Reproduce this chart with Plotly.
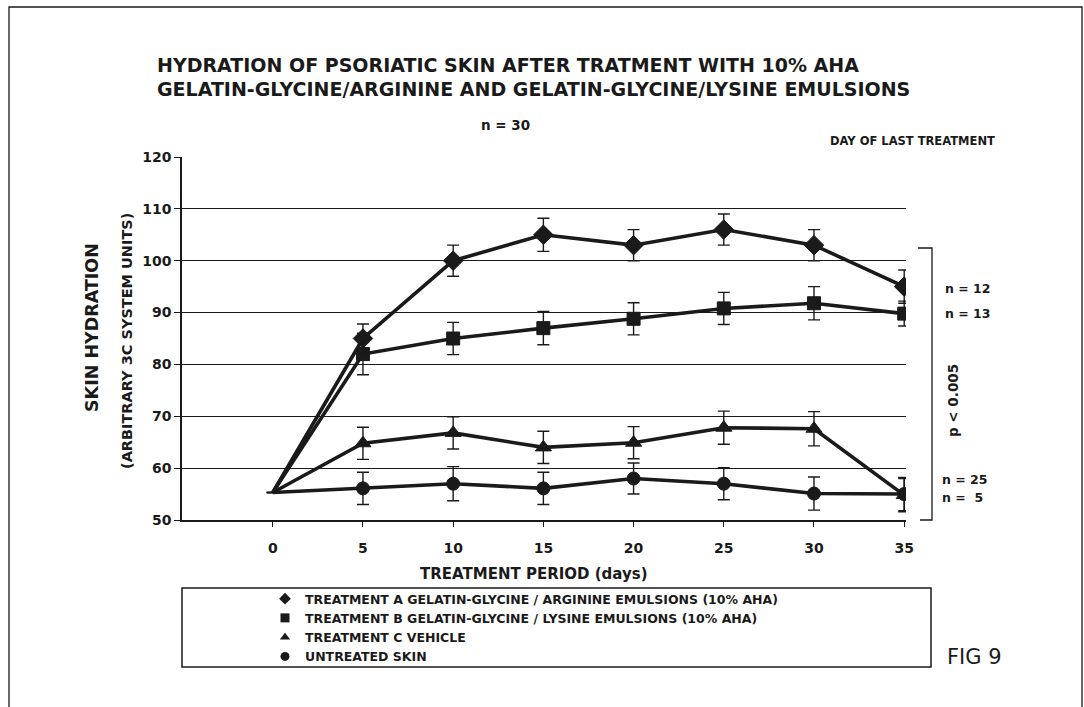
import plotly.graph_objects as go

# ---------------- data ----------------
days = [0, 5, 10, 15, 20, 25, 30, 35]
tick_days = [0, 5, 10, 15, 20, 25, 30, 35]
y_ticks = [50, 60, 70, 80, 90, 100, 110, 120]

series_names = [
    "TREATMENT A GELATIN-GLYCINE / ARGININE EMULSIONS (10% AHA)",
    "TREATMENT B GELATIN-GLYCINE / LYSINE EMULSIONS (10% AHA)",
    "TREATMENT C VEHICLE",
    "UNTREATED SKIN",
]
treat_a = [55.3, 85.0, 100.0, 105.0, 103.0, 106.0, 103.0, 95.0]
treat_b = [55.3, 82.0, 85.0, 87.0, 88.8, 90.8, 91.8, 89.8]
treat_c = [55.3, 64.8, 66.8, 64.0, 64.9, 67.8, 67.6, 54.8]
untreated = [55.3, 56.1, 57.0, 56.1, 58.0, 57.0, 55.1, 55.0]

err_a = [None, 2.8, 3.0, 3.2, 3.0, 3.0, 3.0, 3.2]
err_b = [None, 4.0, 3.1, 3.2, 3.1, 3.1, 3.2, 2.4]
err_c = [None, 3.1, 3.1, 3.1, 3.1, 3.2, 3.3, 3.2]
err_d = [None, 3.1, 3.3, 3.1, 3.0, 3.1, 3.2, 3.2]

n_labels = ["n = 12", "n = 13", "n = 25", "n =\u00a0\u00a05"]

# ---------------- layout helpers ----------------
L, R, T, B = 182, 906, 157, 520    # plot area in screen pixels
W, H = 1084, 707


def px(xpix):
    return (xpix - L) / (R - L)


def py(ypix):
    return (B - ypix) / (B - T)


FONT = "DejaVu Sans, Liberation Sans, Arial, sans-serif"
INK = "#1a1a1a"

fig = go.Figure()

symbols = ["diamond", "square", "triangle-up", "circle"]
msizes = [15, 13, 14, 13]
values = [treat_a, treat_b, treat_c, untreated]
errors = [err_a, err_b, err_c, err_d]

# draw untreated first so the others sit on top
for idx in [3, 2, 1, 0]:
    sizes = [0] + [msizes[idx]] * (len(days) - 1)
    fig.add_trace(go.Scatter(
        x=days, y=values[idx], mode="lines+markers",
        line=dict(color=INK, width=3.6),
        marker=dict(symbol=symbols[idx], size=sizes, color=INK, opacity=1,
                    line=dict(width=1, color=INK)),
        error_y=dict(type="data", array=errors[idx], visible=True,
                     color=INK, thickness=1.4, width=6),
        showlegend=False, hoverinfo="skip",
    ))

# legend-only entries (markers only, like the original)
for idx in range(4):
    fig.add_trace(go.Scatter(
        x=[None], y=[None], mode="markers", name=series_names[idx],
        marker=dict(symbol=symbols[idx], size=9, color=INK, opacity=1),
    ))

annotations = [
    dict(text="<b>HYDRATION OF PSORIATIC SKIN AFTER TRATMENT WITH 10% AHA</b>",
         x=px(155), y=py(65), xanchor="left", yanchor="middle",
         font=dict(size=19, color=INK)),
    dict(text="<b>GELATIN-GLYCINE/ARGININE AND GELATIN-GLYCINE/LYSINE EMULSIONS</b>",
         x=px(155), y=py(89), xanchor="left", yanchor="middle",
         font=dict(size=19, color=INK)),
    dict(text="<b>n = 30</b>", x=px(505), y=py(125), xanchor="center",
         yanchor="middle", font=dict(size=13.5, color=INK)),
    dict(text="<b>DAY OF LAST TREATMENT</b>", x=px(912), y=py(141),
         xanchor="center", yanchor="middle", font=dict(size=11.5, color=INK)),
    dict(text="<b>TREATMENT PERIOD (days)</b>", x=px(534), y=py(574),
         xanchor="center", yanchor="middle", font=dict(size=15, color=INK)),
    dict(text="<b>SKIN HYDRATION</b>", x=px(92), y=py(328), textangle=-90,
         xanchor="center", yanchor="middle", font=dict(size=17.5, color=INK)),
    dict(text="<b>(ARBITRARY 3C SYSTEM UNITS)</b>", x=px(127), y=py(341),
         textangle=-90, xanchor="center", yanchor="middle",
         font=dict(size=14.5, color=INK)),
    dict(text="<b>p < 0.005</b>", x=px(953), y=py(401), textangle=-90,
         xanchor="center", yanchor="middle", font=dict(size=13.5, color=INK)),
    dict(text="FIG 9", x=px(945), y=py(657), xanchor="left", yanchor="middle",
         font=dict(size=21, color=INK)),
]
n_pos = [(943, 288), (943, 313), (940, 479), (940, 497)]
for lab, (xx, yy) in zip(n_labels, n_pos):
    annotations.append(dict(text="<b>" + lab + "</b>", x=px(xx), y=py(yy),
                            xanchor="left", yanchor="middle",
                            font=dict(size=12.5, color=INK)))
for a in annotations:
    a.update(xref="paper", yref="paper", showarrow=False)

shapes = [
    # outer frame of the figure
    dict(type="rect", xref="paper", yref="paper",
         x0=px(9), x1=px(1082), y0=py(712), y1=py(7),
         line=dict(color=INK, width=1.3)),
    # legend box
    dict(type="rect", xref="paper", yref="paper",
         x0=px(182), x1=px(931), y0=py(667), y1=py(588),
         line=dict(color=INK, width=1.5)),
    # significance bracket
    dict(type="path", xref="paper", yref="paper",
         path=f"M {px(918)} {py(248)} L {px(932)} {py(248)} "
              f"L {px(932)} {py(520)} L {px(920)} {py(520)}",
         line=dict(color=INK, width=1.3)),
]

fig.update_layout(
    width=W, height=H,
    margin=dict(l=L, r=W - R, t=T, b=H - B, pad=0),
    paper_bgcolor="white", plot_bgcolor="white",
    font=dict(family=FONT, color=INK),
    annotations=annotations, shapes=shapes,
    legend=dict(x=px(265), y=py(584), xanchor="left", yanchor="top",
                font=dict(size=12.5, color=INK, weight="bold"),
                bgcolor="rgba(0,0,0,0)", borderwidth=0,
                tracegroupgap=0, itemwidth=30),
)
fig.update_xaxes(
    range=[-5.03, 35.1], tickvals=tick_days, showgrid=False, zeroline=False,
    showline=True, linecolor=INK, linewidth=1.6,
    ticks="outside", ticklen=5, tickwidth=1.3, tickcolor=INK,
    tickfont=dict(size=14, color=INK, weight="bold"), ticklabelstandoff=9,
)
fig.update_yaxes(
    range=[50, 120], tickvals=y_ticks, showgrid=True, gridcolor=INK,
    gridwidth=1.4, zeroline=False, showline=True, linecolor=INK,
    linewidth=1.6, ticks="outside", ticklen=6, tickwidth=1.3, tickcolor=INK,
    tickfont=dict(size=14, color=INK, weight="bold"),
)

# remove the page's default body margin so the figure fills the window exactly
fig.write_html(
    "out.html",
    config={"displayModeBar": False},
    post_script="document.body.style.margin='0';"
                "document.body.style.overflow='hidden';",
)
